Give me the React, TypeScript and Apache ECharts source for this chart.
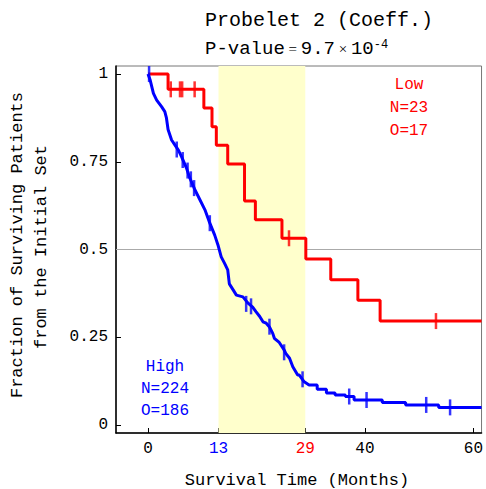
import React, { useEffect, useRef } from 'react';
import * as echarts from 'echarts';

const X_MIN = -5.9;
const X_MAX = 61.5;
const Y_MIN = -0.023;
const Y_MAX = 1.023;
const xTicks = [0, 13, 29, 40, 60];
const yTicks = [0, 0.25, 0.5, 0.75, 1];
const highlightRange = [13, 29];
const refLevel = 0.5;

// Low group (KM step points: time of drop, new survival)
const lowCurve = [
  [0, 1], [3.7, 0.9565], [10.3, 0.903], [11.8, 0.85], [12.6, 0.797], [14.7, 0.744],
  [17.8, 0.638], [19.8, 0.585], [24.7, 0.532], [29.1, 0.473], [33.7, 0.414],
  [38.7, 0.355], [42.8, 0.296], [61.5, 0.296],
];
const lowCensor = [
  [4.2, 0.9565], [5.9, 0.9565], [6.3, 0.9565], [8.6, 0.9565], [26.0, 0.532], [53.1, 0.296],
];

// High group (dense curve)
const highCurve = [
  [0, 1], [0.4, 0.983], [1.0, 0.945], [1.6, 0.926], [2.5, 0.907], [3.1, 0.893], [3.4, 0.875],
  [3.7, 0.842], [4.35, 0.812], [4.95, 0.798], [5.6, 0.783], [6.2, 0.764], [7.1, 0.732],
  [7.7, 0.704], [8.6, 0.672], [9.5, 0.644], [10.5, 0.613], [11.4, 0.575], [12.3, 0.541],
  [12.9, 0.513], [13.5, 0.479], [14.1, 0.461], [14.7, 0.442], [15.0, 0.402], [15.7, 0.385],
  [16.3, 0.37], [17.5, 0.365], [18.4, 0.348], [19.3, 0.336], [19.9, 0.323], [20.6, 0.309],
  [21.2, 0.294], [21.8, 0.29], [22.4, 0.279], [23.0, 0.261], [23.3, 0.247], [24.2, 0.235],
  [25.1, 0.214], [25.4, 0.204], [26.1, 0.19], [26.7, 0.166], [27.6, 0.142], [27.9, 0.142],
  [28.8, 0.123], [29.7, 0.114],
  [31.2, 0.114], [31.2, 0.102], [32.9, 0.102], [32.9, 0.091], [34.5, 0.091], [34.5, 0.085],
  [36.4, 0.085], [36.4, 0.081], [38.0, 0.081], [38.0, 0.071], [43.2, 0.071], [43.2, 0.064],
  [47.5, 0.064], [47.5, 0.057], [53.6, 0.057], [53.6, 0.05], [61.5, 0.05],
];
const highCensor = [
  [0.2, 1.0], [5.3, 0.785], [6.4, 0.755], [7.3, 0.725], [7.9, 0.7], [8.5, 0.675], [11.4, 0.575],
  [18.1, 0.345], [19.0, 0.338], [22.4, 0.28], [25.1, 0.207], [28.5, 0.13],
  [37.1, 0.081], [40.3, 0.071], [51.3, 0.057], [55.7, 0.05],
];

const lowLabel = ['Low', 'N=23', 'O=17'];
const highLabel = ['High', 'N=224', 'O=186'];

const RED = '#ff0000';
const BLUE = '#0000ff';
const MONO = '"Liberation Mono", "DejaVu Sans Mono", monospace';
const SERIF = '"Liberation Serif", serif';

export default function App() {
  const ref = useRef<HTMLDivElement>(null);
  useEffect(() => {
    if (!ref.current) return;
    const chart = echarts.init(ref.current, null, { renderer: 'svg' });
    const textEls: any[] = [];
    lowLabel.forEach((t, i) => {
      textEls.push({
        type: 'text', x: 409, y: 85 + i * 23,
        style: { text: t, font: `16px ${MONO}`, fill: RED, textAlign: 'center', textVerticalAlign: 'middle' },
      });
    });
    highLabel.forEach((t, i) => {
      textEls.push({
        type: 'text', x: 165, y: 367 + i * 22,
        style: { text: t, font: `16px ${MONO}`, fill: BLUE, textAlign: 'center', textVerticalAlign: 'middle' },
      });
    });
    const option: any = {
      animation: false,
      grid: { left: 116, right: 3, top: 66, bottom: 56, show: true, borderColor: '#777', borderWidth: 1 },
      xAxis: {
        type: 'value', min: X_MIN, max: X_MAX,
        axisLine: { show: true, onZero: false, lineStyle: { color: '#000', width: 1.5 } },
        axisTick: { show: true, inside: true, length: 5, customValues: xTicks, lineStyle: { color: '#000' } },
        splitLine: { show: false },
        axisLabel: {
          customValues: xTicks, margin: 8, fontSize: 16, fontFamily: MONO, color: '#000',
          formatter: (v: number) => (v === 13 ? '{b|13}' : v === 29 ? '{r|29}' : String(v)),
          rich: {
            b: { color: BLUE, fontSize: 16, fontFamily: MONO },
            r: { color: RED, fontSize: 16, fontFamily: MONO },
          },
        },
      },
      yAxis: {
        type: 'value', min: Y_MIN, max: Y_MAX,
        axisLine: { show: true, onZero: false, lineStyle: { color: '#000', width: 1.5 } },
        axisTick: { show: true, inside: true, length: 5, customValues: yTicks, lineStyle: { color: '#000' } },
        splitLine: { show: false },
        axisLabel: { customValues: yTicks, margin: 8, fontSize: 16, fontFamily: MONO, color: '#000' },
      },
      series: [
        {
          type: 'line', z: 1, silent: true, symbol: 'none',
          data: [[X_MIN, refLevel], [X_MAX, refLevel]],
          lineStyle: { color: '#aaaaaa', width: 1 },
        },
        {
          type: 'custom', z: 2, silent: true,
          data: [highlightRange],
          renderItem: (params: any, api: any) => {
            const p1 = api.coord([api.value(0), Y_MAX]);
            const p2 = api.coord([api.value(1), Y_MIN]);
            return {
              type: 'rect',
              shape: { x: p1[0], y: p1[1], width: p2[0] - p1[0], height: p2[1] - p1[1] },
              style: { fill: '#ffffcc' },
            };
          },
        },
        {
          type: 'line', z: 3, step: 'end', symbol: 'none', data: lowCurve,
          lineStyle: { color: RED, width: 3 },
        },
        {
          type: 'line', z: 3, symbol: 'none', data: highCurve,
          lineStyle: { color: BLUE, width: 3 },
        },
        {
          type: 'scatter', z: 4, symbol: 'rect', symbolSize: [2.5, 16], data: lowCensor,
          itemStyle: { color: RED },
        },
        {
          type: 'scatter', z: 4, symbol: 'rect', symbolSize: [2.5, 16], data: highCensor,
          itemStyle: { color: BLUE },
        },
      ],
      graphic: [
        {
          type: 'text', left: 205, top: 10,
          style: { text: 'Probelet 2 (Coeff.)', font: `20px ${MONO}`, fill: '#000' },
        },
        {
          type: 'text', left: 205, top: 39,
          style: {
            text: '{a|P-value}{e| = }{a|9.7}{e| × }{a|10}{s|-4}',
            fill: '#000',
            rich: {
              a: { fontSize: 19, fontFamily: MONO, fill: '#000', color: '#000' },
              e: { fontSize: 15, fontFamily: SERIF, fill: '#000', color: '#000' },
              s: { fontSize: 12, fontFamily: MONO, fill: '#000', color: '#000', verticalAlign: 'top' },
            },
          },
        },
        {
          type: 'text', x: 297, y: 480,
          style: { text: 'Survival Time (Months)', font: `17px ${MONO}`, fill: '#000', textAlign: 'center', textVerticalAlign: 'middle' },
        },
        {
          type: 'text', x: 17, y: 245, rotation: Math.PI / 2,
          style: { text: 'Fraction of Surviving Patients', font: `17px ${MONO}`, fill: '#000', textAlign: 'center', textVerticalAlign: 'middle' },
        },
        {
          type: 'text', x: 41, y: 247, rotation: Math.PI / 2,
          style: { text: 'from the Initial Set', font: `17px ${MONO}`, fill: '#000', textAlign: 'center', textVerticalAlign: 'middle' },
        },
        ...textEls,
      ],
    };
    chart.setOption(option);
    return () => chart.dispose();
  }, []);
  return <div ref={ref} style={{ width: 486, height: 489, position: 'absolute', left: 0, top: 0 }} />;
}
